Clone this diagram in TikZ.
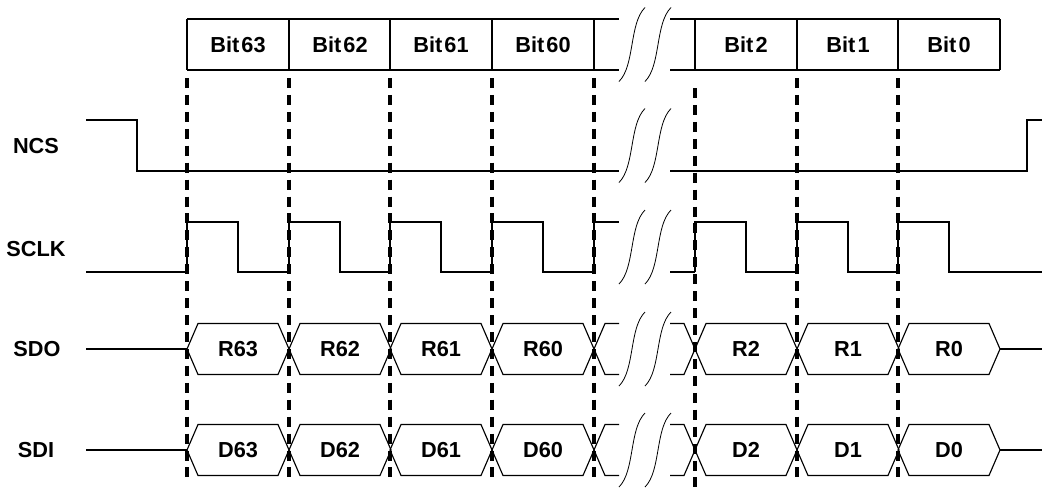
\documentclass[tikz,border=0pt]{standalone}
\usepackage{fontspec}
\setmainfont{Liberation Sans}
\tikzset{
  sig/.style={line width=0.85pt},
  guide/.style={line width=2.6pt,dash pattern=on 7.5pt off 5.2pt},
  lbl/.style={font=\bfseries\fontsize{16.3}{18}\selectfont,inner sep=0pt},
  brk/.style={line width=0.6pt},
}
\begin{document}
\begin{tikzpicture}[x=0.75pt,y=-0.75pt]
        \useasboundingbox (0,0) rectangle (1042,487) ;
        % bit frame
        \draw[sig] (187,19) -- (619,19) (187,70) -- (619,70) ;
        \draw[sig] (670,19) -- (1000,19) (670,70) -- (1000,70) ;
        \foreach \x in {187,289,390,492,594,695,797,898,1000}
          \draw[sig] (\x,19) -- (\x,70) ;
        \foreach \x/\n in {238/63,340/62,441/61,543/60,746/2,848/1,949/0}
          \node[lbl] (bit\n) at (\x,44.5) {Bit\kern0.1em\n} ;
        % dashed guides
        \foreach \x in {187,289,390,492,594,797,898}
          \draw[guide] (\x,78) -- (\x,478) ;
        \draw[guide] (695,88) -- (695,487) ;
        % signal names
        \node[lbl] (ncs) at (36,146) {NCS} ;
        \node[lbl] (sclk) at (36,249) {SCLK} ;
        \node[lbl] (sdo) at (37,349) {SDO} ;
        \node[lbl] (sdi) at (36,450) {SDI} ;
        % NCS
        \draw[sig] (86,120) -- (137,120) -- (137,171) -- (619,171) ;
        \draw[sig] (670,171) -- (1027,171) -- (1027,120) -- (1042,120) ;
        % SCLK
        \draw[sig] (86,272) -- (187,272) ;
        \foreach \x in {187,289,390,492,695,797,898}
          \draw[sig] (\x,272) -- (\x,222) -- ++(51,0) -- ++(0,50) -- ++(51,0) ;
        \draw[sig] (594,272) -- (594,222) -- (619,222) ;
        \draw[sig] (670,272) -- (695,272) ;
        \draw[sig] (1000,272) -- (1042,272) ;
        % SDO, SDI
        \foreach \yc/\p in {349/R,450/D} {
          \draw[sig] (86,\yc) -- (187,\yc) ;
          \foreach \x/\n in {187/63,289/62,390/61,492/60,695/2,797/1,898/0}
            \draw[sig] (\x,\yc) -- ++(11,-25.5) -- ++(80,0) -- ++(11,25.5)
              -- ++(-11,25.5) -- ++(-80,0) -- cycle
              node[lbl] (\p\n) at (\x+51,\yc) {\p\n} ;
          \draw[sig] (619,\yc-25.5) -- (605,\yc-25.5) -- (594,\yc) -- (605,\yc+25.5) -- (619,\yc+25.5) ;
          \draw[sig] (670,\yc-25.5) -- (684,\yc-25.5) -- (695,\yc) -- (684,\yc+25.5) -- (670,\yc+25.5) ;
          \draw[sig] (1000,\yc) -- (1042,\yc) ;
        }
        % break marks
        \foreach \yc in {44.5,145.5,247,349,450}
          \foreach \x in {619,645}
            \draw[brk] (\x,\yc+37) .. controls +(16,-16) and +(-16,16) .. (\x+26,\yc-37) ;
      \end{tikzpicture}
\end{document}
